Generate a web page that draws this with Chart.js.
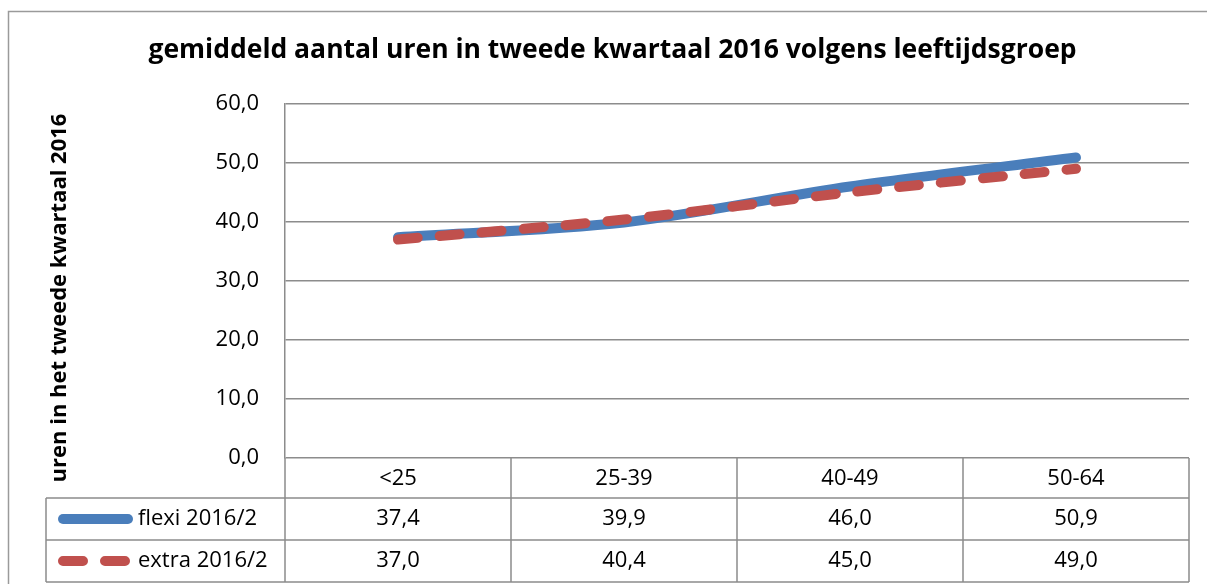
<!DOCTYPE html>
<html>
<head>
<meta charset="utf-8">
<style>
  html, body { margin: 0; padding: 0; background: #fff; }
  #wrap { width: 1207px; height: 584px; }
</style>
<script src="https://cdn.jsdelivr.net/npm/chart.js@4.4.1/dist/chart.umd.min.js"></script>
</head>
<body>
<div id="wrap"><canvas id="lineChart" width="1207" height="584"></canvas></div>
<script>
// leeftijdsgroepen en gemiddelde uren per kwartaal
const categories = ['<25', '25-39', '40-49', '50-64'];
const flexiValues = [37.4, 39.9, 46.0, 50.9];
const extraValues = [37.0, 40.4, 45.0, 49.0];
const seriesNames = ['flexi 2016/2', 'extra 2016/2'];
const yTicks = [0, 10, 20, 30, 40, 50, 60];

const BLUE = '#4a7ebb';
const RED = '#c0504d';
const GRID = '#8c8c8c';
const FONT = '"Open Sans", Lato, sans-serif';
const DASH = [20, 22];

const fmt = v => v.toFixed(1).replace('.', ',');

// outer frame + white background
const framePlugin = {
  id: 'frame',
  beforeDraw(chart) {
    const ctx = chart.ctx;
    ctx.save();
    ctx.fillStyle = '#fff';
    ctx.fillRect(0, 0, chart.width, chart.height);
    ctx.strokeStyle = '#9a9a9a';
    ctx.lineWidth = 1.5;
    ctx.strokeRect(8.5, 11.5, chart.width + 10, chart.height + 10);
    ctx.restore();
  }
};

// data table under the plot (Excel style) + y axis title
const tablePlugin = {
  id: 'dataTable',
  afterDraw(chart) {
    const ctx = chart.ctx;
    const area = chart.chartArea;
    const x = chart.scales.x;
    const colW = (area.right - area.left) / categories.length;
    const rowH = [40, 42, 42];
    const top = area.bottom;
    const r1 = top + rowH[0];
    const r2 = r1 + rowH[1];
    const r3 = r2 + rowH[2];
    const legendLeft = 46;

    ctx.save();
    ctx.strokeStyle = GRID;
    ctx.lineWidth = 1.5;
    ctx.beginPath();
    [r1, r2, r3].forEach(y => { ctx.moveTo(legendLeft, y); ctx.lineTo(area.right, y); });
    ctx.moveTo(legendLeft, r1); ctx.lineTo(legendLeft, r3);
    for (let i = 0; i <= categories.length; i++) {
      const cx = area.left + i * colW;
      ctx.moveTo(cx, top); ctx.lineTo(cx, r3);
    }
    ctx.stroke();

    ctx.fillStyle = '#000';
    ctx.font = '22px ' + FONT;
    ctx.textAlign = 'center';
    ctx.textBaseline = 'middle';
    const rows = [flexiValues, extraValues];
    categories.forEach((c, i) => {
      const cx = x.getPixelForValue(i);
      ctx.fillText(c, cx, top + rowH[0] / 2 + 1);
      rows.forEach((vals, j) => {
        const cy = (j === 0 ? r1 : r2) + rowH[j + 1] / 2;
        ctx.fillText(fmt(vals[i]), cx, cy);
      });
    });

    // legend keys in the first column
    ctx.textAlign = 'left';
    [BLUE, RED].forEach((col, j) => {
      const cy = (j === 0 ? r1 : r2) + rowH[j + 1] / 2;
      ctx.strokeStyle = col;
      ctx.lineWidth = 10;
      ctx.lineCap = 'round';
      ctx.setLineDash(j === 0 ? [] : DASH);
      ctx.beginPath();
      ctx.moveTo(63, cy);
      ctx.lineTo(128, cy);
      ctx.stroke();
      ctx.setLineDash([]);
      ctx.fillText(seriesNames[j], 138, cy);
    });

    // y axis title
    ctx.font = 'bold 22px ' + FONT;
    ctx.textAlign = 'center';
    ctx.translate(60, 298);
    ctx.rotate(-Math.PI / 2);
    ctx.fillText('uren in het tweede kwartaal 2016', 0, 0);
    ctx.restore();
  }
};

new Chart(document.getElementById('lineChart'), {
  type: 'line',
  data: {
    labels: categories,
    datasets: [
      {
        label: seriesNames[0],
        data: flexiValues,
        borderColor: BLUE,
        backgroundColor: BLUE,
        borderWidth: 10,
        borderCapStyle: 'round',
        borderJoinStyle: 'round',
        pointRadius: 0,
        tension: 0.3,
        order: 1
      },
      {
        label: seriesNames[1],
        data: extraValues,
        borderColor: RED,
        backgroundColor: RED,
        borderWidth: 10,
        borderDash: DASH,
        borderCapStyle: 'round',
        borderJoinStyle: 'round',
        pointRadius: 0,
        tension: 0.3,
        order: 0
      }
    ]
  },
  options: {
    responsive: false,
    animation: false,
    layout: { padding: { left: 36, right: 18, top: 0, bottom: 126 } },
    plugins: {
      legend: { display: false },
      tooltip: { enabled: false },
      title: {
        display: true,
        text: 'gemiddeld aantal uren in tweede kwartaal 2016 volgens leeftijdsgroep',
        color: '#000',
        font: { family: FONT, size: 26.5, weight: 'bold' },
        padding: { top: 35, bottom: 37 }
      }
    },
    scales: {
      x: {
        display: false,
        offset: true
      },
      y: {
        min: 0,
        max: 60,
        afterBuildTicks: s => { s.ticks = yTicks.map(v => ({ value: v })); },
        afterFit: s => { s.width = 249; },
        grid: { color: GRID, lineWidth: 1.5, drawTicks: false },
        border: { display: true, color: GRID, width: 1.5 },
        ticks: {
          color: '#000',
          padding: 26,
          font: { family: FONT, size: 22 },
          callback: v => fmt(v)
        }
      }
    }
  },
  plugins: [framePlugin, tablePlugin]
});
</script>
</body>
</html>
